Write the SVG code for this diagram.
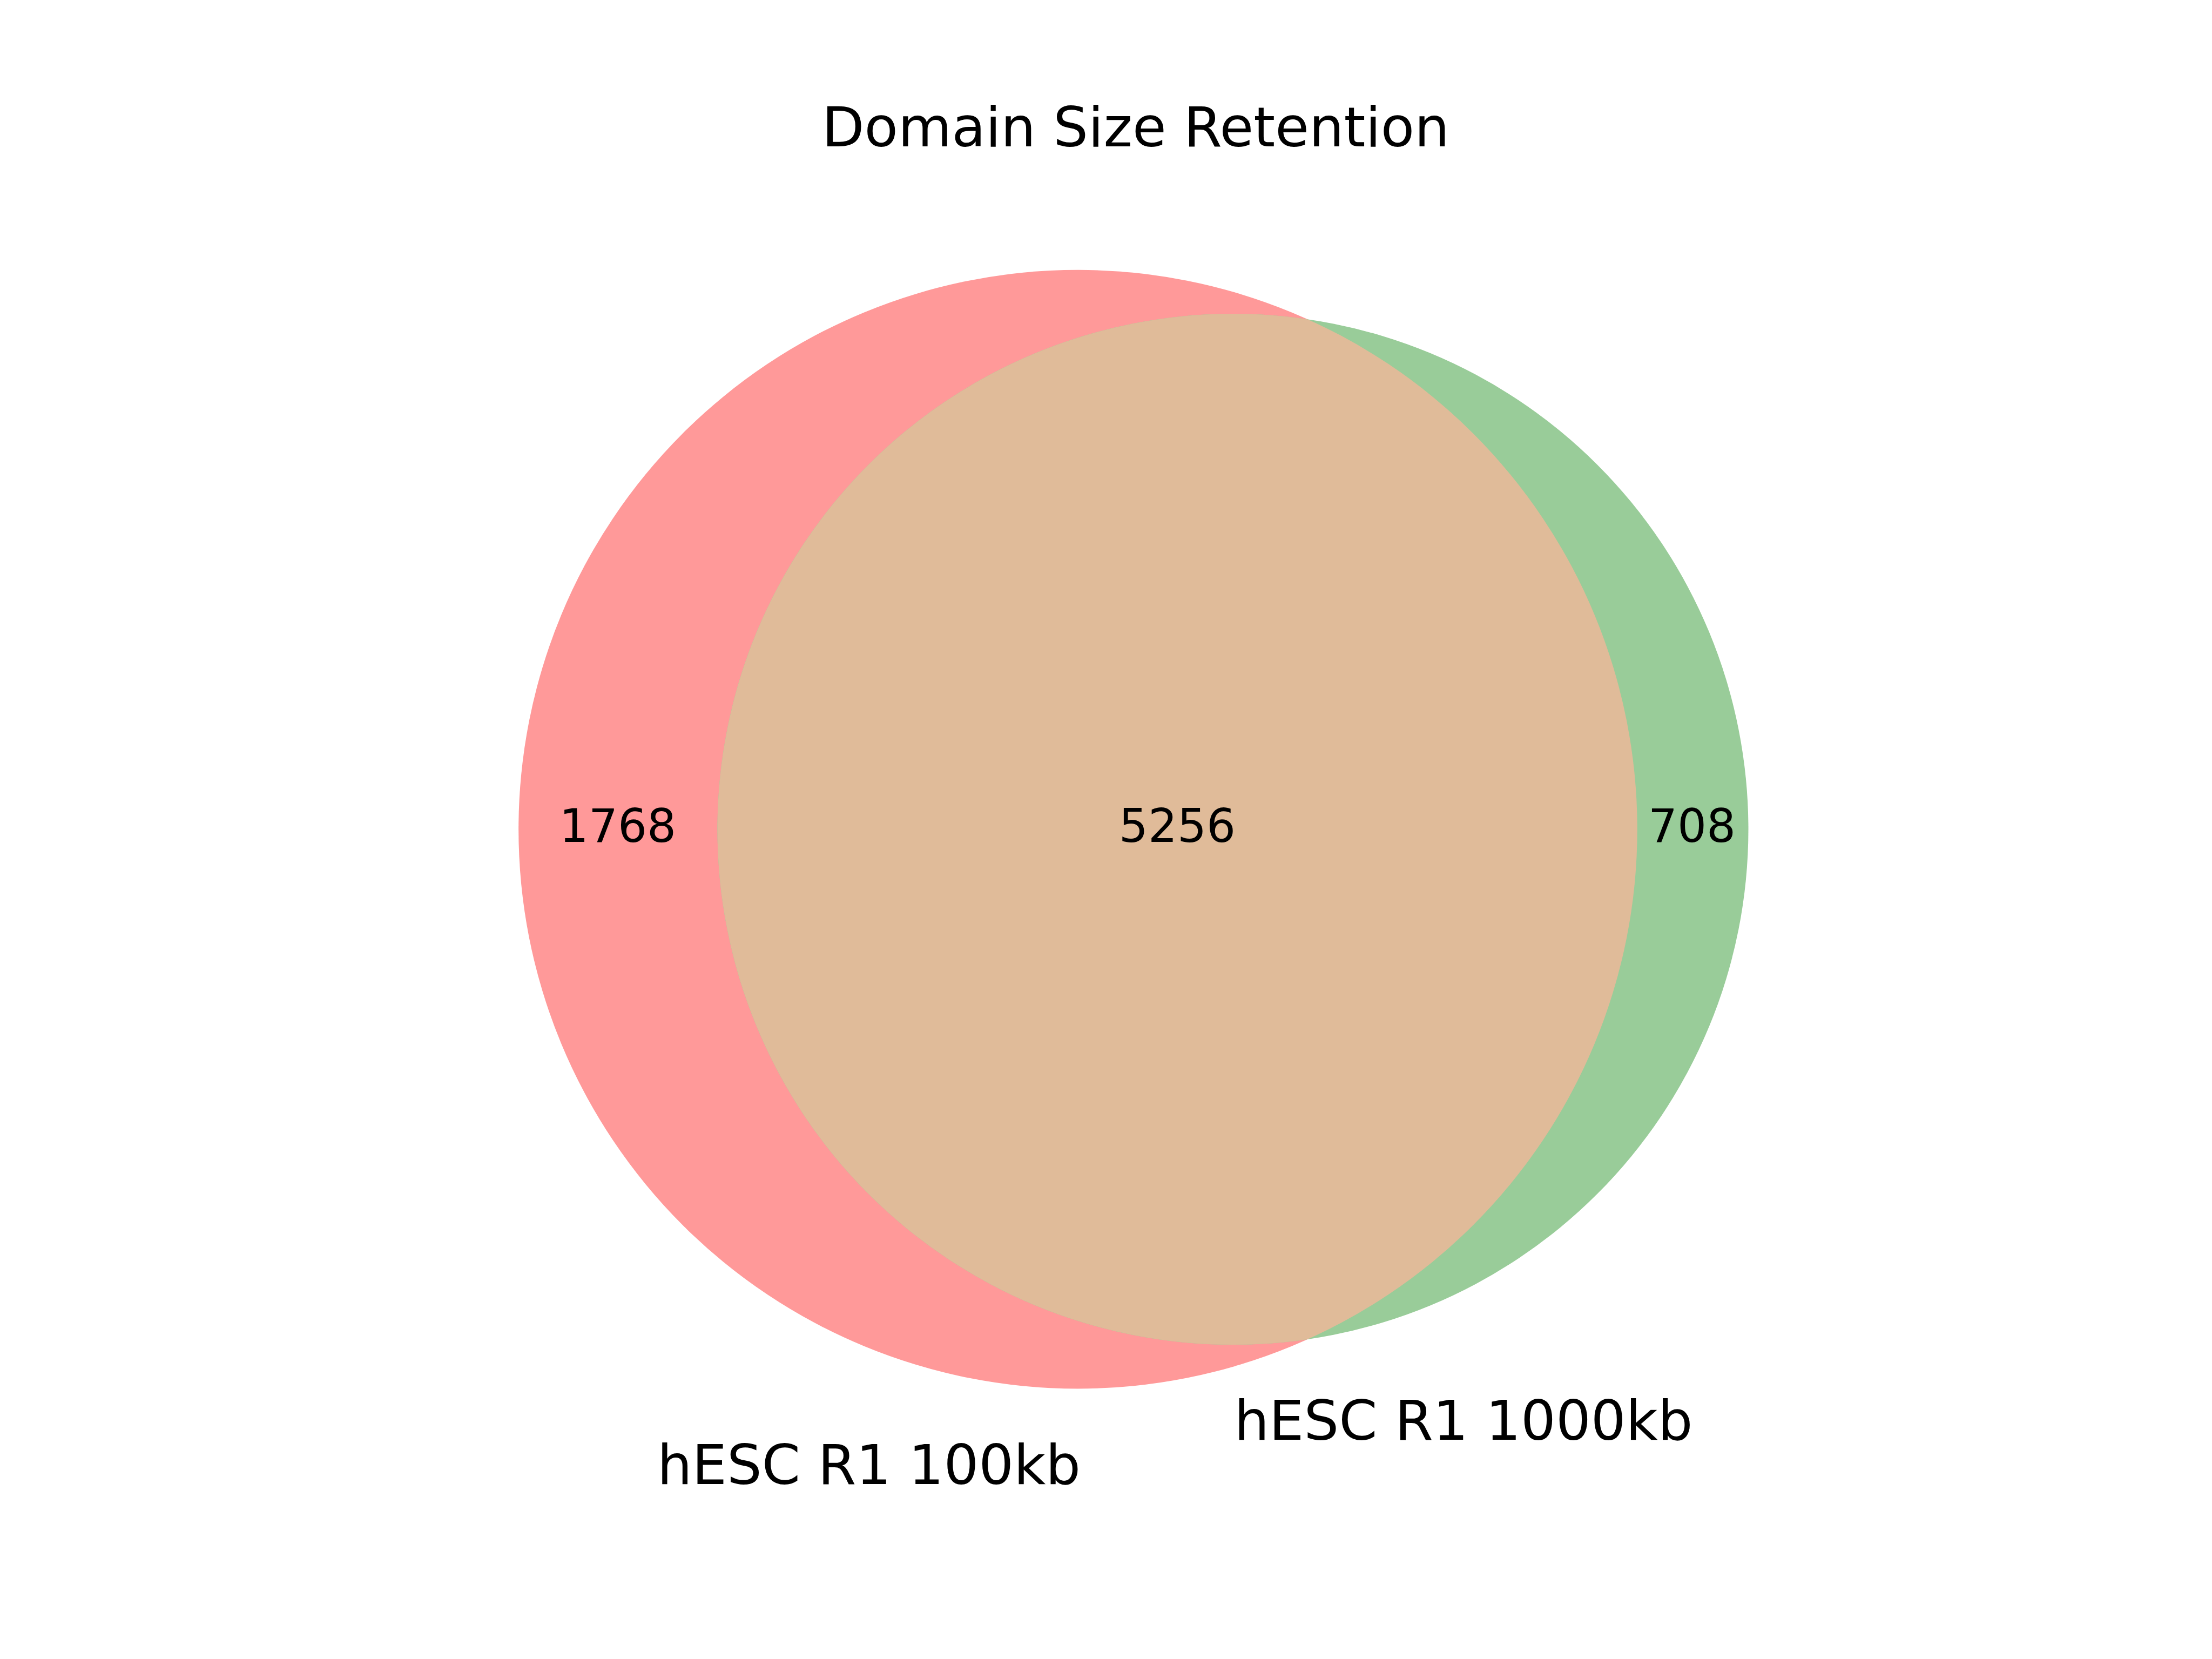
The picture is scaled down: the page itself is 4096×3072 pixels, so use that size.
<svg xmlns="http://www.w3.org/2000/svg" width="4096" height="3072" viewBox="0 0 4096 3072">
<style>
text{font-family:"DejaVu Sans","Liberation Sans",sans-serif;fill:#000;text-anchor:middle}
.t{font-size:102px}
.s{font-size:85px}
</style>
<defs>
<clipPath id="clipA"><circle cx="1996" cy="1535.6" r="1035.8"/></clipPath>
</defs>
<rect width="4096" height="3072" fill="#fff"/>
<g id="setA"><circle cx="1996" cy="1535.6" r="1035.8" fill="#ff9999"/></g>
<g id="setB"><circle cx="2283" cy="1535.6" r="954.5" fill="#99cc99"/></g>
<g id="setAB"><circle cx="2283" cy="1535.6" r="954.5" fill="#e0bb99" clip-path="url(#clipA)"/></g>
<g id="connectors"/>
<text class="t" x="2103" y="271">Domain Size Retention</text>
<text class="s" x="1144" y="1559">1768</text>
<text class="s" x="2180" y="1559">5256</text>
<text class="s" x="3133" y="1559">708</text>
<text class="t" x="1609" y="2748">hESC R1 100kb</text>
<text class="t" x="2710" y="2666">hESC R1 1000kb</text>
</svg>
